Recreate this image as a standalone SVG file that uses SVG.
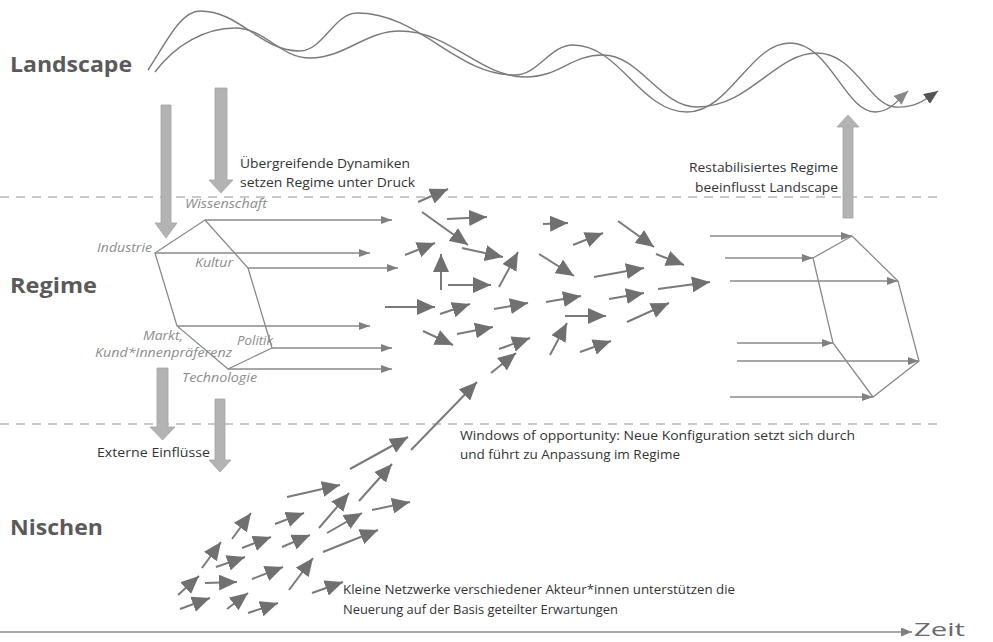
<svg xmlns="http://www.w3.org/2000/svg" width="993" height="642" viewBox="0 0 993 642">
<style>
.lvl{font-family:"Open Sans","Liberation Sans",sans-serif;font-weight:bold;font-size:22px;fill:#5a5a5a}
.note{font-family:"Open Sans","Liberation Sans",sans-serif;font-size:12px;fill:#333}
.lab{font-family:"Open Sans","Liberation Sans",sans-serif;font-style:italic;font-size:12px;fill:#8c8c8c}
.dash{stroke:#c9c9c9;stroke-width:2;stroke-dasharray:9 7;fill:none}
.wave{stroke:#7a7a7a;stroke-width:1.4;fill:none}
.hex{stroke:#8a8a8a;stroke-width:1.3;fill:none}
.ha{stroke:#8a8a8a;stroke-width:1.6;fill:none;marker-end:url(#ah)}
.sa{stroke:#7a7a7a;stroke-width:2;fill:none;marker-end:url(#big)}
.block{fill:#b3b3b3;stroke:#a3a3a3;stroke-width:0.8}
.axis{stroke:#8a8a8a;stroke-width:1.5;fill:none;marker-end:url(#ax)}
</style>
<defs>
<marker id="ah" markerUnits="userSpaceOnUse" markerWidth="11" markerHeight="8" refX="11" refY="4" orient="auto"><path d="M0,0 L11,4 L0,8 z" fill="#808080"/></marker>
<marker id="big" markerUnits="userSpaceOnUse" markerWidth="18" markerHeight="16" refX="18" refY="8" orient="auto"><path d="M0,0 L18,8 L0,16 z" fill="#707070"/></marker>
<marker id="w1" markerUnits="userSpaceOnUse" markerWidth="14" markerHeight="12" refX="14" refY="6" orient="auto"><path d="M0,0 L14,6 L0,12 z" fill="#888"/></marker>
<marker id="w2" markerUnits="userSpaceOnUse" markerWidth="14" markerHeight="12" refX="14" refY="6" orient="auto"><path d="M0,0 L14,6 L0,12 z" fill="#555"/></marker>
<marker id="ax" markerUnits="userSpaceOnUse" markerWidth="11" markerHeight="9" refX="11" refY="4.5" orient="auto"><path d="M0,0 L11,4.5 L0,9 z" fill="#808080"/></marker>
</defs>
<rect width="993" height="642" fill="#fff"/>

<g id="level-lines">
<line class="dash" x1="0" y1="197" x2="940" y2="197"/>
<line class="dash" x1="0" y1="424" x2="940" y2="424"/>
</g>

<g id="levels">
<text class="lvl" x="10" y="72" textLength="122" lengthAdjust="spacingAndGlyphs">Landscape</text>
<text class="lvl" x="10" y="293" textLength="87" lengthAdjust="spacingAndGlyphs">Regime</text>
<text class="lvl" x="10" y="535" textLength="93" lengthAdjust="spacingAndGlyphs">Nischen</text>
</g>

<g id="landscape-waves">
<path class="wave" style="marker-end:url(#w1)" d="M148,70 C165,45 180,11 200,11 C240,11 260,51 300,51 C323,51 334,13 357,13 C420,13 455,75 515,75 C538,75 550,45 573,45 C620,45 640,112 687,112 C730,112 750,43 790,43 C830,43 845,112 875,112 C890,112 898,100 908,91"/>
<path class="wave" style="marker-end:url(#w2)" d="M155,72 C175,45 205,28 235,28 C265,28 280,58 310,58 C345,58 365,31 400,31 C450,31 480,77 525,77 C560,77 570,55 603,55 C640,55 660,107 697,107 C750,107 775,53 817,53 C855,53 870,106 895,107 C915,108 925,100 938,91"/>
</g>

<g id="block-arrows">
<polygon class="block" points="161,105 171,105 171,223 177,223 166,238 155,223 161,223"/>
<polygon class="block" points="215,88 227,88 227,180 233,180 221,193 209,180 215,180"/>
<polygon class="block" points="157,368 168,368 168,427 175,427 162.5,440 150,427 157,427"/>
<polygon class="block" points="215,399 225,399 225,460 231,460 220,472 209,460 215,460"/>
<polygon class="block" points="843,218 853,218 853,127 859,127 848,115 837,127 843,127"/>
</g>

<g id="notes">
<text class="note" x="240" y="168" textLength="170" lengthAdjust="spacingAndGlyphs">Übergreifende Dynamiken</text>
<text class="note" x="240" y="187" textLength="175" lengthAdjust="spacingAndGlyphs">setzen Regime unter Druck</text>
<text class="note" x="838" y="172" text-anchor="end" textLength="149" lengthAdjust="spacingAndGlyphs">Restabilisiertes Regime</text>
<text class="note" x="838" y="192" text-anchor="end" textLength="143" lengthAdjust="spacingAndGlyphs">beeinflusst Landscape</text>
<text class="note" x="97" y="457" textLength="113" lengthAdjust="spacingAndGlyphs">Externe Einflüsse</text>
<text class="note" x="460" y="440" textLength="395" lengthAdjust="spacingAndGlyphs">Windows of opportunity: Neue  Konfiguration setzt sich durch</text>
<text class="note" x="460" y="459" textLength="220" lengthAdjust="spacingAndGlyphs">und führt zu Anpassung im Regime</text>
<text class="note" x="343" y="594" textLength="392" lengthAdjust="spacingAndGlyphs">Kleine Netzwerke  verschiedener Akteur*innen unterstützen die</text>
<text class="note" x="343" y="614" textLength="275" lengthAdjust="spacingAndGlyphs">Neuerung auf der Basis geteilter Erwartungen</text>
</g>

<g id="regime-left">
<polygon class="hex" points="205,220 248,268 272,348 228,369 177,326 155,253"/>
<text class="lab" x="185" y="208" textLength="82" lengthAdjust="spacingAndGlyphs">Wissenschaft</text>
<text class="lab" x="97" y="252" textLength="55" lengthAdjust="spacingAndGlyphs">Industrie</text>
<text class="lab" x="195" y="267" textLength="38" lengthAdjust="spacingAndGlyphs">Kultur</text>
<text class="lab" x="143" y="340" textLength="40" lengthAdjust="spacingAndGlyphs">Markt,</text>
<text class="lab" x="95" y="357" textLength="137" lengthAdjust="spacingAndGlyphs">Kund*Innenpräferenz</text>
<text class="lab" x="237" y="345" textLength="36" lengthAdjust="spacingAndGlyphs">Politik</text>
<text class="lab" x="182" y="382" textLength="75" lengthAdjust="spacingAndGlyphs">Technologie</text>
</g>

<g id="regime-right">
<polygon class="hex" points="852,236 898,281 919,361 873,397 833,343 813,258"/>
</g>

<g id="connectors">
<line class="ha" x1="205" y1="220" x2="392" y2="220"/>
<line class="ha" x1="155" y1="253" x2="370" y2="253"/>
<line class="ha" x1="248" y1="268" x2="398" y2="268"/>
<line class="ha" x1="177" y1="326" x2="370" y2="326"/>
<line class="ha" x1="272" y1="348" x2="392" y2="348"/>
<line class="ha" x1="228" y1="369" x2="392" y2="369"/>

<line class="ha" x1="710" y1="236" x2="852" y2="236"/>
<line class="ha" x1="725" y1="258" x2="813" y2="258"/>
<line class="ha" x1="730" y1="281" x2="898" y2="281"/>
<line class="ha" x1="737" y1="343" x2="833" y2="343"/>
<line class="ha" x1="737" y1="361" x2="919" y2="361"/>
<line class="ha" x1="730" y1="397" x2="873" y2="397"/>

<line class="sa" x1="418" y1="202" x2="448" y2="189"/>
<line class="sa" x1="447" y1="219" x2="487" y2="217"/>
<line class="sa" x1="422" y1="212" x2="468" y2="245"/>
<line class="sa" x1="405" y1="255" x2="435" y2="243"/>
<line class="sa" x1="462" y1="248" x2="503" y2="257"/>
<line class="sa" x1="441" y1="290" x2="441" y2="254"/>
<line class="sa" x1="499" y1="287" x2="518" y2="252"/>
<line class="sa" x1="448" y1="285" x2="491" y2="285"/>
<line class="sa" x1="385" y1="307" x2="435" y2="307"/>
<line class="sa" x1="440" y1="314" x2="470" y2="304"/>
<line class="sa" x1="423" y1="331" x2="453" y2="345"/>
<line class="sa" x1="457" y1="334" x2="493" y2="327"/>
<line class="sa" x1="494" y1="309" x2="528" y2="303"/>
<line class="sa" x1="499" y1="349" x2="530" y2="338"/>
<line class="sa" x1="491" y1="373" x2="516" y2="353"/>
<line class="sa" x1="411" y1="450" x2="477" y2="382"/>
<line class="sa" x1="543" y1="224" x2="568" y2="223"/>
<line class="sa" x1="573" y1="245" x2="603" y2="233"/>
<line class="sa" x1="539" y1="254" x2="574" y2="276"/>
<line class="sa" x1="546" y1="302" x2="581" y2="296"/>
<line class="sa" x1="565" y1="316" x2="606" y2="316"/>
<line class="sa" x1="550" y1="355" x2="567" y2="323"/>
<line class="sa" x1="580" y1="352" x2="611" y2="341"/>
<line class="sa" x1="618" y1="221" x2="654" y2="247"/>
<line class="sa" x1="594" y1="277" x2="644" y2="268"/>
<line class="sa" x1="609" y1="299" x2="644" y2="293"/>
<line class="sa" x1="627" y1="322" x2="669" y2="303"/>
<line class="sa" x1="656" y1="254" x2="684" y2="265"/>
<line class="sa" x1="658" y1="289" x2="710" y2="282"/>

<line class="sa" x1="350" y1="469" x2="408" y2="437"/>
<line class="sa" x1="359" y1="501" x2="392" y2="464"/>
<line class="sa" x1="287" y1="497" x2="340" y2="485"/>
<line class="sa" x1="319" y1="528" x2="349" y2="493"/>
<line class="sa" x1="372" y1="510" x2="410" y2="502"/>
<line class="sa" x1="327" y1="533" x2="362" y2="513"/>
<line class="sa" x1="275" y1="524" x2="304" y2="513"/>
<line class="sa" x1="232" y1="539" x2="251" y2="513"/>
<line class="sa" x1="323" y1="552" x2="378" y2="530"/>
<line class="sa" x1="282" y1="547" x2="310" y2="535"/>
<line class="sa" x1="242" y1="548" x2="271" y2="537"/>
<line class="sa" x1="202" y1="568" x2="221" y2="542"/>
<line class="sa" x1="216" y1="567" x2="245" y2="557"/>
<line class="sa" x1="289" y1="590" x2="313" y2="558"/>
<line class="sa" x1="252" y1="579" x2="283" y2="567"/>
<line class="sa" x1="205" y1="583" x2="237" y2="582"/>
<line class="sa" x1="178" y1="595" x2="199" y2="576"/>
<line class="sa" x1="312" y1="593" x2="343" y2="582"/>
<line class="sa" x1="180" y1="609" x2="210" y2="598"/>
<line class="sa" x1="227" y1="609" x2="248" y2="593"/>
<line class="sa" x1="248" y1="613" x2="278" y2="603"/>
</g>

<g id="time-axis">
<line class="axis" x1="0" y1="632" x2="912" y2="632"/>
<text x="914" y="636" font-family="Open Sans, Liberation Sans, sans-serif" font-size="18" fill="#6a6a6a" textLength="51" lengthAdjust="spacingAndGlyphs">Zeit</text>
</g>
</svg>
